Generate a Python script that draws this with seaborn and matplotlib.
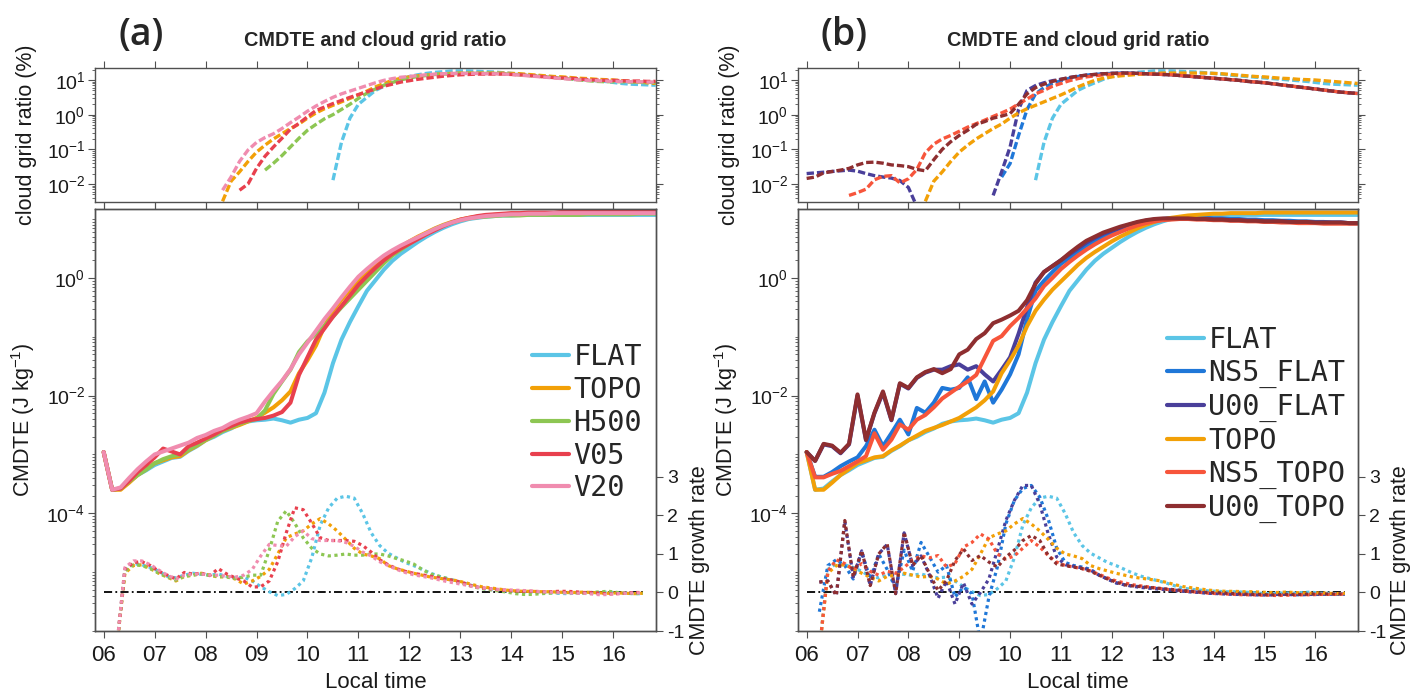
import numpy as np
import matplotlib
matplotlib.use("Agg")
import matplotlib.pyplot as plt
from matplotlib.lines import Line2D
from matplotlib.font_manager import FontProperties
from matplotlib.ticker import FixedLocator, LogLocator, NullFormatter, FuncFormatter
import seaborn as sns

nan = np.nan

# ---------------------------------------------------------------------------
# Time axes (local hours). CMDTE and cloud grid ratio every 10 min from 06:00,
# growth rate at the centre of each 10-min interval from 06:15.
# ---------------------------------------------------------------------------
cmdte_hours = 6 + np.arange(66) / 6
growth_hours = 6.25 + np.arange(63) / 6
hour_ticks = list(range(6, 17))
hour_labels = [f"{h:02d}" for h in hour_ticks]

runs_a = ["FLAT", "TOPO", "H500", "V05", "V20"]
runs_b = ["FLAT", "NS5_FLAT", "U00_FLAT", "TOPO", "NS5_TOPO", "U00_TOPO"]

run_colors = {
    "FLAT": "#5bc5e6", "TOPO": "#f2a007", "H500": "#8dc653",
    "V05": "#e8404e", "V20": "#f08caf", "NS5_FLAT": "#1f77d8",
    "U00_FLAT": "#4a3f9a", "NS5_TOPO": "#f7553b", "U00_TOPO": "#8e2e30",
}

# ---------------------------------------------------------------------------
# log10 of CMDTE (J kg-1)
# ---------------------------------------------------------------------------
log_cmdte_flat = [
    -2.96, -3.60, -3.58, -3.46, -3.35, -3.27, -3.18, -3.12, -3.06, -3.04, -2.94,
    -2.86, -2.76, -2.70, -2.62, -2.56, -2.48, -2.44, -2.42, -2.41, -2.39, -2.42,
    -2.46, -2.41, -2.38, -2.30, -1.95, -1.45, -1.05, -0.75, -0.48, -0.22, -0.04,
    0.14, 0.29, 0.41, 0.51, 0.61, 0.70, 0.78, 0.85, 0.91, 0.96, 1.00,
    1.02, 1.04, 1.05, 1.06, 1.06, 1.07, 1.07, 1.07, 1.07, 1.07, 1.07,
    1.07, 1.07, 1.07, 1.07, 1.07, 1.07, 1.07, 1.07, 1.07, 1.07, 1.07]
log_cmdte_topo = [
    -2.96, -3.60, -3.60, -3.48, -3.35, -3.25, -3.15, -3.10, -3.05, -3.03, -2.93,
    -2.85, -2.76, -2.68, -2.60, -2.55, -2.50, -2.44, -2.38, -2.29, -2.20, -2.08,
    -1.93, -1.62, -1.40, -1.15, -0.82, -0.56, -0.37, -0.20, -0.06, 0.08, 0.22,
    0.34, 0.44, 0.53, 0.62, 0.70, 0.77, 0.84, 0.90, 0.95, 0.99, 1.02,
    1.04, 1.06, 1.07, 1.08, 1.09, 1.09, 1.10, 1.10, 1.10, 1.10, 1.11,
    1.11, 1.11, 1.11, 1.11, 1.11, 1.11, 1.11, 1.11, 1.11, 1.11, 1.11]
log_cmdte_h500 = [
    -2.96, -3.60, -3.58, -3.46, -3.35, -3.26, -3.15, -3.08, -3.03, -3.00, -2.92,
    -2.84, -2.75, -2.68, -2.60, -2.54, -2.48, -2.43, -2.40, -2.25, -1.97, -1.76,
    -1.56, -1.26, -1.08, -0.95, -0.82, -0.66, -0.50, -0.35, -0.20, -0.05, 0.10,
    0.25, 0.38, 0.48, 0.58, 0.67, 0.75, 0.83, 0.89, 0.94, 0.98, 1.01,
    1.03, 1.04, 1.05, 1.06, 1.06, 1.06, 1.07, 1.07, 1.07, 1.07, 1.07,
    1.07, 1.07, 1.08, 1.08, 1.08, 1.08, 1.08, 1.08, 1.09, 1.09, 1.09]
log_cmdte_v05 = [
    -2.96, -3.60, -3.58, -3.45, -3.30, -3.18, -3.05, -2.90, -2.95, -3.00, -2.86,
    -2.80, -2.73, -2.66, -2.58, -2.52, -2.46, -2.42, -2.40, -2.38, -2.34, -2.28,
    -2.12, -1.65, -1.35, -1.05, -0.86, -0.66, -0.48, -0.30, -0.12, 0.03, 0.17,
    0.30, 0.41, 0.50, 0.58, 0.66, 0.74, 0.81, 0.88, 0.94, 0.99, 1.02,
    1.05, 1.07, 1.08, 1.09, 1.10, 1.10, 1.11, 1.11, 1.11, 1.11, 1.12,
    1.12, 1.12, 1.12, 1.12, 1.12, 1.12, 1.12, 1.12, 1.12, 1.12, 1.12]
log_cmdte_v20 = [
    -2.96, -3.60, -3.56, -3.40, -3.25, -3.12, -3.00, -2.95, -2.90, -2.85, -2.80,
    -2.72, -2.67, -2.60, -2.55, -2.47, -2.41, -2.36, -2.30, -2.10, -1.92, -1.75,
    -1.55, -1.30, -1.10, -0.90, -0.70, -0.52, -0.33, -0.15, 0.02, 0.15, 0.27,
    0.38, 0.47, 0.55, 0.62, 0.69, 0.76, 0.83, 0.89, 0.94, 0.98, 1.01,
    1.03, 1.05, 1.06, 1.07, 1.08, 1.08, 1.09, 1.09, 1.09, 1.10, 1.10,
    1.10, 1.10, 1.10, 1.10, 1.10, 1.10, 1.10, 1.10, 1.10, 1.10, 1.10]
log_cmdte_ns5_flat = [
    -2.96, -3.38, -3.38, -3.30, -3.20, -3.12, -3.05, -2.86, -2.58, -2.86, -2.64,
    -2.41, -2.66, -2.21, -2.29, -2.12, -1.87, -1.90, -1.87, -1.69, -2.06, -1.76,
    -2.12, -1.90, -1.64, -1.30, -0.70, -0.22, -0.05, 0.10, 0.24, 0.34, 0.44,
    0.55, 0.63, 0.70, 0.76, 0.82, 0.87, 0.91, 0.95, 0.98, 1.00, 1.01,
    1.02, 1.02, 1.02, 1.02, 1.01, 1.01, 1.00, 1.00, 0.99, 0.99, 0.98,
    0.98, 0.97, 0.97, 0.96, 0.96, 0.95, 0.95, 0.94, 0.94, 0.93, 0.93]
log_cmdte_u00_flat = [
    -2.96, -3.11, -2.83, -2.86, -2.98, -2.83, -2.00, -2.76, -2.30, -1.95, -2.42,
    -1.80, -1.88, -1.70, -1.61, -1.56, -1.56, -1.50, -1.47, -1.56, -1.50, -1.64,
    -1.76, -1.56, -1.35, -0.95, -0.50, -0.08, 0.10, 0.20, 0.30, 0.40, 0.50,
    0.60, 0.68, 0.75, 0.80, 0.85, 0.90, 0.94, 0.97, 0.99, 1.00, 1.01,
    1.01, 1.01, 1.00, 1.00, 0.99, 0.99, 0.98, 0.98, 0.97, 0.97, 0.96,
    0.96, 0.96, 0.95, 0.95, 0.95, 0.94, 0.94, 0.94, 0.94, 0.93, 0.93]
log_cmdte_ns5_topo = [
    -2.96, -3.39, -3.39, -3.33, -3.28, -3.20, -3.12, -3.03, -2.64, -2.92, -2.75,
    -2.49, -2.58, -2.41, -2.33, -2.20, -2.05, -1.95, -1.85, -1.76, -1.65, -1.36,
    -1.07, -0.99, -0.82, -0.68, -0.52, -0.35, -0.14, 0.00, 0.15, 0.27, 0.38,
    0.48, 0.57, 0.65, 0.72, 0.78, 0.84, 0.89, 0.93, 0.96, 0.98, 0.99,
    1.00, 1.00, 0.99, 0.99, 0.98, 0.98, 0.97, 0.97, 0.96, 0.96, 0.95,
    0.95, 0.94, 0.94, 0.93, 0.93, 0.93, 0.92, 0.92, 0.92, 0.92, 0.92]
log_cmdte_u00_topo = [
    -2.96, -3.11, -2.82, -2.85, -2.97, -2.82, -1.98, -2.75, -2.29, -1.93, -2.41,
    -1.79, -1.87, -1.69, -1.60, -1.55, -1.62, -1.55, -1.30, -1.22, -1.04, -0.94,
    -0.77, -0.71, -0.64, -0.56, -0.38, -0.10, 0.10, 0.20, 0.30, 0.42, 0.53,
    0.63, 0.70, 0.77, 0.82, 0.87, 0.91, 0.95, 0.98, 1.00, 1.01, 1.01,
    1.01, 1.01, 1.00, 1.00, 0.99, 0.99, 0.98, 0.98, 0.97, 0.97, 0.96,
    0.96, 0.96, 0.95, 0.95, 0.95, 0.94, 0.94, 0.94, 0.94, 0.93, 0.93]

# ---------------------------------------------------------------------------
# CMDTE growth rate
# ---------------------------------------------------------------------------
growth_flat = [
    -1.50, 0.60, 0.75, 0.72, 0.65, 0.55, 0.42, 0.38, 0.45,
    0.50, 0.47, 0.45, 0.48, 0.42, 0.38, 0.40, 0.30, 0.15,
    0.02, -0.08, -0.05, 0.10, 0.30, 0.90, 1.75, 2.20, 2.45,
    2.50, 2.45, 2.05, 1.55, 1.22, 1.02, 0.90, 0.78, 0.70,
    0.60, 0.50, 0.42, 0.36, 0.30, 0.24, 0.17, 0.11, 0.08,
    0.06, 0.04, 0.03, 0.02, 0.02, 0.01, 0.00, -0.02, -0.03,
    -0.02, -0.01, -0.02, 0.00, 0.01, -0.02, -0.02, -0.03, -0.03]
growth_topo = [
    -1.50, 0.50, 0.70, 0.72, 0.62, 0.50, 0.40, 0.30, 0.42,
    0.45, 0.50, 0.45, 0.40, 0.42, 0.35, 0.22, 0.30, 0.42,
    0.60, 1.00, 1.42, 1.52, 1.60, 1.78, 1.92, 1.78, 1.60,
    1.38, 1.15, 1.00, 0.95, 0.88, 0.70, 0.62, 0.56, 0.50,
    0.45, 0.40, 0.37, 0.34, 0.31, 0.26, 0.20, 0.15, 0.12,
    0.09, 0.06, 0.04, 0.03, 0.03, 0.02, 0.02, 0.01, 0.00,
    0.00, 0.01, 0.00, -0.01, -0.02, -0.01, -0.02, -0.03, -0.02]
growth_h500 = [
    -1.50, 0.55, 0.72, 0.70, 0.62, 0.50, 0.40, 0.32, 0.42,
    0.45, 0.48, 0.44, 0.42, 0.40, 0.36, 0.40, 0.45, 0.45,
    1.10, 1.85, 2.12, 1.80, 1.42, 1.15, 1.00, 0.95, 0.97,
    1.00, 0.97, 0.97, 1.00, 1.00, 0.95, 0.88, 0.82, 0.74,
    0.60, 0.48, 0.42, 0.36, 0.28, 0.22, 0.15, 0.10, 0.07,
    0.04, 0.01, -0.03, -0.05, -0.05, -0.03, -0.02, 0.00, 0.00,
    -0.01, -0.02, 0.00, 0.02, 0.03, 0.00, -0.02, -0.03, -0.02]
growth_v05 = [
    -1.50, 0.60, 0.78, 0.80, 0.70, 0.55, 0.45, 0.35, 0.52,
    0.48, 0.50, 0.44, 0.62, 0.48, 0.38, 0.30, 0.14, 0.15,
    0.30, 0.80, 1.55, 2.20, 2.15, 1.80, 1.42, 1.35, 1.35,
    1.35, 1.33, 1.22, 1.05, 0.85, 0.72, 0.62, 0.55, 0.50,
    0.46, 0.42, 0.38, 0.34, 0.30, 0.24, 0.16, 0.12, 0.10,
    0.07, 0.05, 0.04, 0.03, 0.03, 0.02, 0.02, 0.03, 0.03,
    0.02, 0.00, 0.00, -0.02, -0.04, -0.03, -0.02, 0.00, 0.00]
growth_v20 = [
    -1.50, 0.65, 0.82, 0.82, 0.72, 0.58, 0.45, 0.35, 0.45,
    0.48, 0.48, 0.45, 0.45, 0.42, 0.40, 0.45, 0.60, 0.95,
    1.25, 1.22, 1.20, 1.45, 1.60, 1.40, 1.35, 1.35, 1.35,
    1.30, 1.20, 1.05, 0.95, 0.80, 0.70, 0.60, 0.52, 0.46,
    0.42, 0.38, 0.33, 0.28, 0.24, 0.20, 0.15, 0.12, 0.10,
    0.08, 0.07, 0.06, 0.05, 0.04, 0.02, 0.01, 0.00, -0.01,
    -0.02, -0.02, -0.04, -0.06, -0.05, -0.03, -0.02, -0.01, -0.01]
growth_ns5_flat = [
    -0.50, 0.70, 0.85, 0.70, 0.35, 1.05, 0.35, 1.00, 0.60,
    0.10, 1.10, 0.55, 1.30, 0.92, 0.53, 0.70, -0.12, 0.14,
    -0.03, -1.30, -0.12, 0.66, 1.78, 2.39, 2.70, 2.78, 2.48,
    1.90, 1.15, 0.78, 0.70, 0.66, 0.60, 0.45, 0.35, 0.25,
    0.20, 0.17, 0.14, 0.12, 0.10, 0.08, 0.06, 0.04, 0.02,
    0.00, -0.02, -0.02, -0.03, -0.04, -0.05, -0.05, -0.06, -0.06,
    -0.05, -0.05, -0.06, -0.06, -0.05, -0.05, -0.04, -0.04, -0.04]
growth_u00_flat = [
    0.27, 0.30, -0.08, 1.85, 0.40, 1.08, 0.18, 1.00, 1.25,
    -0.03, 1.55, 0.70, 0.95, 0.45, -0.15, 0.30, -0.30, 0.25,
    -0.30, 0.00, 0.35, 1.10, 1.87, 2.39, 2.78, 2.78, 2.30,
    1.52, 0.92, 0.72, 0.68, 0.64, 0.58, 0.45, 0.35, 0.25,
    0.20, 0.16, 0.13, 0.11, 0.09, 0.07, 0.05, 0.03, 0.01,
    0.00, -0.02, -0.03, -0.04, -0.05, -0.05, -0.06, -0.06, -0.06,
    -0.05, -0.05, -0.05, -0.05, -0.05, -0.04, -0.04, -0.04, -0.04]
growth_ns5_topo = [
    -1.50, 0.55, 0.85, 0.75, 0.60, 0.75, 0.55, 0.45, 0.55,
    0.50, 0.65, 0.85, 0.95, 0.90, 0.96, 0.66, 0.75, 1.18,
    1.30, 1.52, 1.39, 1.00, 0.87, 0.95, 1.15, 1.35, 1.18,
    0.96, 0.79, 0.70, 0.66, 0.62, 0.56, 0.47, 0.38, 0.30,
    0.25, 0.20, 0.17, 0.14, 0.11, 0.08, 0.06, 0.04, 0.02,
    0.00, -0.02, -0.03, -0.04, -0.05, -0.06, -0.06, -0.07, -0.07,
    -0.08, -0.07, -0.07, -0.06, -0.06, -0.05, -0.05, -0.05, -0.04]
growth_u00_topo = [
    0.27, 0.30, -0.08, 1.87, 0.40, 1.09, 0.18, 1.00, 1.26,
    -0.03, 1.57, 0.70, 0.96, 0.48, 0.05, 0.31, 0.83, 1.13,
    0.83, 0.96, 0.79, 0.66, 0.92, 1.10, 1.35, 1.48, 1.35,
    0.96, 0.74, 0.70, 0.66, 0.62, 0.55, 0.45, 0.35, 0.27,
    0.20, 0.17, 0.15, 0.13, 0.11, 0.09, 0.07, 0.05, 0.03,
    0.01, 0.00, -0.01, -0.02, -0.03, -0.04, -0.05, -0.05, -0.06,
    -0.06, -0.05, -0.05, -0.05, -0.04, -0.04, -0.04, -0.04, -0.04]

# ---------------------------------------------------------------------------
# log10 of cloud grid ratio (%); nan where no cloudy grid point exists
# ---------------------------------------------------------------------------
log_cloud_flat = [
    nan, nan, nan, nan, nan, nan, nan, nan, nan, nan, nan,
    nan, nan, nan, nan, nan, nan, nan, nan, nan, nan, nan,
    nan, nan, nan, nan, nan, -1.89, -0.80, -0.10, 0.30, 0.50, 0.70,
    0.82, 0.92, 1.02, 1.10, 1.15, 1.19, 1.22, 1.24, 1.26, 1.26, 1.26,
    1.25, 1.24, 1.23, 1.21, 1.19, 1.17, 1.14, 1.12, 1.10, 1.08, 1.06,
    1.04, 1.02, 1.00, 0.98, 0.96, 0.93, 0.90, 0.88, 0.87, 0.86, 0.85]
log_cloud_topo = [
    nan, nan, nan, nan, nan, nan, nan, nan, nan, nan, nan,
    nan, nan, nan, -2.50, -1.92, -1.65, -1.35, -1.08, -0.88, -0.70, -0.55,
    -0.40, -0.27, -0.10, 0.05, 0.17, 0.27, 0.37, 0.47, 0.57, 0.68, 0.80,
    0.90, 0.99, 1.05, 1.09, 1.12, 1.14, 1.16, 1.18, 1.19, 1.20, 1.20,
    1.20, 1.20, 1.20, 1.20, 1.19, 1.18, 1.16, 1.14, 1.12, 1.10, 1.09,
    1.07, 1.05, 1.04, 1.02, 1.01, 1.00, 0.98, 0.96, 0.94, 0.92, 0.90]
log_cloud_h500 = [
    nan, nan, nan, nan, nan, nan, nan, nan, nan, nan, nan,
    nan, nan, nan, nan, nan, nan, nan, nan, -1.60, -1.40, -1.18,
    -0.93, -0.68, -0.45, -0.28, -0.12, 0.00, 0.15, 0.30, 0.47, 0.62, 0.74,
    0.85, 0.93, 1.00, 1.06, 1.10, 1.13, 1.16, 1.17, 1.18, 1.19, 1.19,
    1.19, 1.19, 1.19, 1.18, 1.17, 1.15, 1.13, 1.11, 1.09, 1.07, 1.05,
    1.03, 1.00, 0.98, 0.96, 0.95, 0.95, 0.95, 0.94, 0.94, 0.93, 0.93]
log_cloud_v05 = [
    nan, nan, nan, nan, nan, nan, nan, nan, nan, nan, nan,
    nan, nan, nan, nan, nan, -2.18, -2.00, -1.55, -1.20, -0.93, -0.68,
    -0.42, -0.25, -0.06, 0.12, 0.22, 0.32, 0.41, 0.50, 0.58, 0.66, 0.74,
    0.82, 0.88, 0.94, 0.98, 1.02, 1.05, 1.08, 1.11, 1.13, 1.15, 1.16,
    1.17, 1.17, 1.17, 1.17, 1.16, 1.15, 1.13, 1.11, 1.09, 1.07, 1.06,
    1.05, 1.03, 1.01, 1.00, 0.99, 0.99, 0.98, 0.97, 0.97, 0.96, 0.96]
log_cloud_v20 = [
    nan, nan, nan, nan, nan, nan, nan, nan, nan, nan, nan,
    nan, nan, nan, -2.18, -1.80, -1.35, -1.02, -0.80, -0.66, -0.55, -0.40,
    -0.23, -0.07, 0.10, 0.25, 0.38, 0.50, 0.60, 0.68, 0.76, 0.84, 0.92,
    0.99, 1.04, 1.08, 1.10, 1.13, 1.15, 1.17, 1.18, 1.19, 1.19, 1.19,
    1.19, 1.18, 1.18, 1.17, 1.16, 1.14, 1.12, 1.10, 1.08, 1.06, 1.04,
    1.02, 1.00, 0.99, 0.98, 0.97, 0.96, 0.96, 0.95, 0.95, 0.94, 0.94]
log_cloud_ns5_flat = [
    nan, nan, nan, nan, nan, nan, nan, nan, nan, nan, nan,
    nan, nan, nan, nan, nan, nan, nan, nan, nan, nan, nan,
    nan, -1.80, -1.41, -0.60, 0.15, 0.60, 0.78, 0.90, 0.98, 1.05, 1.10,
    1.14, 1.16, 1.18, 1.19, 1.20, 1.20, 1.19, 1.18, 1.17, 1.16, 1.15,
    1.13, 1.11, 1.09, 1.07, 1.05, 1.03, 1.01, 0.99, 0.96, 0.94, 0.92,
    0.89, 0.86, 0.83, 0.80, 0.77, 0.74, 0.71, 0.68, 0.65, 0.63, 0.61]
log_cloud_u00_flat = [
    -1.70, -1.68, -1.66, -1.64, -1.62, -1.60, -1.63, -1.70, -1.76, -1.80, -1.83,
    -1.90, -2.10, -2.65, nan, nan, nan, nan, nan, nan, nan, nan,
    -2.33, -1.65, -0.93, 0.15, 0.70, 0.84, 0.92, 0.98, 1.02, 1.07, 1.11,
    1.14, 1.16, 1.18, 1.19, 1.20, 1.20, 1.19, 1.18, 1.17, 1.16, 1.15,
    1.13, 1.11, 1.09, 1.07, 1.05, 1.03, 1.01, 0.99, 0.96, 0.94, 0.92,
    0.89, 0.86, 0.83, 0.80, 0.77, 0.74, 0.71, 0.68, 0.65, 0.63, 0.61]
log_cloud_ns5_topo = [
    nan, nan, nan, nan, nan, -2.33, -2.25, -2.15, -1.88, -1.78, -1.76,
    -1.97, -1.85, -1.58, -1.10, -0.85, -0.70, -0.60, -0.48, -0.36, -0.26, -0.16,
    -0.05, 0.05, 0.16, 0.31, 0.45, 0.60, 0.70, 0.82, 0.90, 0.98, 1.04,
    1.09, 1.12, 1.15, 1.17, 1.18, 1.19, 1.19, 1.18, 1.17, 1.16, 1.15,
    1.13, 1.11, 1.09, 1.07, 1.05, 1.03, 1.01, 0.99, 0.96, 0.94, 0.92,
    0.89, 0.86, 0.83, 0.80, 0.77, 0.74, 0.71, 0.68, 0.65, 0.63, 0.61]
log_cloud_u00_topo = [
    -1.84, -1.80, -1.68, -1.64, -1.60, -1.55, -1.45, -1.38, -1.37, -1.40, -1.45,
    -1.47, -1.50, -1.58, -1.62, -1.30, -1.00, -0.78, -0.60, -0.45, -0.28, -0.20,
    -0.10, -0.04, 0.03, 0.30, 0.60, 0.78, 0.88, 0.96, 1.02, 1.07, 1.11,
    1.14, 1.16, 1.18, 1.19, 1.20, 1.20, 1.19, 1.18, 1.17, 1.16, 1.15,
    1.13, 1.11, 1.09, 1.07, 1.05, 1.03, 1.01, 0.99, 0.96, 0.94, 0.92,
    0.89, 0.86, 0.83, 0.80, 0.77, 0.74, 0.71, 0.68, 0.65, 0.63, 0.61]

log_cmdte = {
    "FLAT": log_cmdte_flat, "TOPO": log_cmdte_topo, "H500": log_cmdte_h500,
    "V05": log_cmdte_v05, "V20": log_cmdte_v20, "NS5_FLAT": log_cmdte_ns5_flat,
    "U00_FLAT": log_cmdte_u00_flat, "NS5_TOPO": log_cmdte_ns5_topo,
    "U00_TOPO": log_cmdte_u00_topo,
}
growth = {
    "FLAT": growth_flat, "TOPO": growth_topo, "H500": growth_h500,
    "V05": growth_v05, "V20": growth_v20, "NS5_FLAT": growth_ns5_flat,
    "U00_FLAT": growth_u00_flat, "NS5_TOPO": growth_ns5_topo,
    "U00_TOPO": growth_u00_topo,
}
log_cloud = {
    "FLAT": log_cloud_flat, "TOPO": log_cloud_topo, "H500": log_cloud_h500,
    "V05": log_cloud_v05, "V20": log_cloud_v20, "NS5_FLAT": log_cloud_ns5_flat,
    "U00_FLAT": log_cloud_u00_flat, "NS5_TOPO": log_cloud_ns5_topo,
    "U00_TOPO": log_cloud_u00_topo,
}

# ---------------------------------------------------------------------------
# Style
# ---------------------------------------------------------------------------
sns.set_style("ticks")
plt.rcParams.update({
    "font.family": ["Liberation Sans", "DejaVu Sans"],
    "mathtext.fontset": "custom",
    "mathtext.rm": "Liberation Sans",
    "mathtext.it": "Liberation Sans:italic",
    "mathtext.default": "regular",
    "axes.edgecolor": "#505050",
    "axes.linewidth": 1.0,
    "xtick.color": "#505050",
    "ytick.color": "#505050",
    "xtick.labelcolor": "#1a1a1a",
    "ytick.labelcolor": "#1a1a1a",
    "axes.labelcolor": "#1a1a1a",
})

SOLID_W, DASH_W, DOT_W = 2.9, 2.4, 2.3
DASHED = (0, (2.2, 0.9))
DOTTED = (0, (1.0, 1.1))
XLIM = (5.83, 16.84)
FIG_W, FIG_H = 1427, 693


def draw(ax, hours, values, color, style, width):
    """Draw one series with seaborn, leaving gaps where values are missing."""
    values = np.asarray(values, dtype=float)
    valid = np.flatnonzero(~np.isnan(values))
    for seg in np.split(valid, np.flatnonzero(np.diff(valid) > 1) + 1):
        if seg.size > 1:
            sns.lineplot(x=hours[seg], y=values[seg], ax=ax, color=color,
                         linestyle=style, linewidth=width, estimator=None,
                         sort=False, legend=False)


def power_label(v, _pos):
    return r"$10^{%d}$" % round(np.log10(v))


def panel(fig, left_px, right_px, runs, letter, legend_xy):
    left = left_px / FIG_W
    span = right_px - left_px
    width = span / FIG_W
    top = fig.add_axes([left, 1 - 202 / FIG_H, width, 134 / FIG_H])
    main = fig.add_axes([left, 1 - 631 / FIG_H, width, 422 / FIG_H])
    rate = main.twinx()

    # cloud grid ratio (upper box)
    top.set_yscale("log")
    for run in runs:
        draw(top, cmdte_hours, 10 ** np.asarray(log_cloud[run]),
             run_colors[run], DASHED, DASH_W)
    top.set_xlim(*XLIM)
    top.set_ylim(10 ** -2.52, 10 ** 1.346)
    top.yaxis.set_major_locator(FixedLocator([1e-2, 1e-1, 1e0, 1e1]))
    top.yaxis.set_major_formatter(FuncFormatter(power_label))
    top.yaxis.set_minor_locator(LogLocator(base=10, subs=np.arange(2, 10), numticks=20))
    top.yaxis.set_minor_formatter(NullFormatter())
    top.set_xticks(hour_ticks)
    top.set_xticklabels([])
    top.tick_params(axis="x", which="both", top=True, bottom=True, direction="out", length=5)
    top.tick_params(axis="y", which="major", left=True, right=True, direction="out",
                    length=5, labelsize=14, pad=2)
    top.tick_params(axis="y", which="minor", left=True, right=True, direction="out", length=2.5)
    top.set_xlabel("")
    top.set_ylabel("cloud grid ratio (%)", fontsize=15.5)
    top.yaxis.set_label_coords(-58 / span, 0.5)

    # CMDTE (log) and its growth rate (twin, linear)
    main.set_yscale("log")
    for run in runs:
        draw(main, cmdte_hours, 10 ** np.asarray(log_cmdte[run]),
             run_colors[run], "-", SOLID_W)
    main.set_xlim(*XLIM)
    main.set_ylim(1e-6, 10 ** 1.17)
    main.yaxis.set_major_locator(FixedLocator([1e-4, 1e-2, 1e0]))
    main.yaxis.set_major_formatter(FuncFormatter(power_label))
    main.yaxis.set_minor_locator(LogLocator(base=10, subs=np.arange(1, 10), numticks=30))
    main.yaxis.set_minor_formatter(NullFormatter())
    main.set_xticks(hour_ticks)
    main.set_xticklabels(hour_labels)
    main.tick_params(axis="x", which="both", top=True, bottom=True, direction="out",
                     length=5, labelsize=16, pad=5)
    main.tick_params(axis="y", which="major", left=True, right=False, direction="out",
                     length=5, labelsize=14, pad=2)
    main.tick_params(axis="y", which="minor", left=True, right=False, direction="out", length=2.5)
    main.set_ylabel(r"CMDTE (J kg$^{-1}$)", fontsize=15.5)
    main.yaxis.set_label_coords(-58 / span, 0.5)
    main.set_xlabel("Local time", fontsize=16)
    main.xaxis.set_label_coords(0.5, -0.098)

    draw(rate, np.array([cmdte_hours[0], growth_hours[-1]]), [0.0, 0.0],
         "black", (0, (4.5, 1.8, 1.0, 1.8)), 1.3)
    for run in runs:
        draw(rate, growth_hours, growth[run], run_colors[run], DOTTED, DOT_W)
    rate.set_xlim(*XLIM)
    rate.set_ylim(-1, 9.96)
    rate.set_yticks([-1, 0, 1, 2, 3])
    rate.set_yticklabels(["-1", "0", "1", "2", "3"])
    rate.tick_params(axis="y", which="both", right=True, direction="out", length=5,
                     labelsize=14, pad=3)
    rate.set_ylabel("CMDTE growth rate", fontsize=15.5)
    rate.yaxis.set_label_coords(1.058, 0.168)

    # panel letter and title
    fig.text((left_px + 46) / FIG_W, 1 - 35 / FIG_H, f"({letter})", ha="center",
             va="center", fontsize=27, family="Open Sans", fontweight="semibold")
    fig.text((left_px + right_px) / 2 / FIG_W, 1 - 41 / FIG_H,
             "CMDTE and cloud grid ratio", ha="center", va="center",
             fontsize=14.3, fontweight="bold")

    handles = [Line2D([], [], color=run_colors[r], lw=3.0) for r in runs]
    fig.legend(handles, runs, loc="upper left",
               bbox_to_anchor=(legend_xy[0] / FIG_W, 1 - legend_xy[1] / FIG_H),
               bbox_transform=fig.transFigure, frameon=False,
               prop=FontProperties(family="DejaVu Sans Mono", size=20.5),
               handlelength=1.3, handletextpad=0.15, labelspacing=0.17,
               borderpad=0, borderaxespad=0)


fig = plt.figure(figsize=(FIG_W / 100, FIG_H / 100), dpi=100)
panel(fig, 95, 656, runs_a, "a", (532, 343))
panel(fig, 798, 1358, runs_b, "b", (1167, 326))
fig.savefig("out.png", dpi=100)
